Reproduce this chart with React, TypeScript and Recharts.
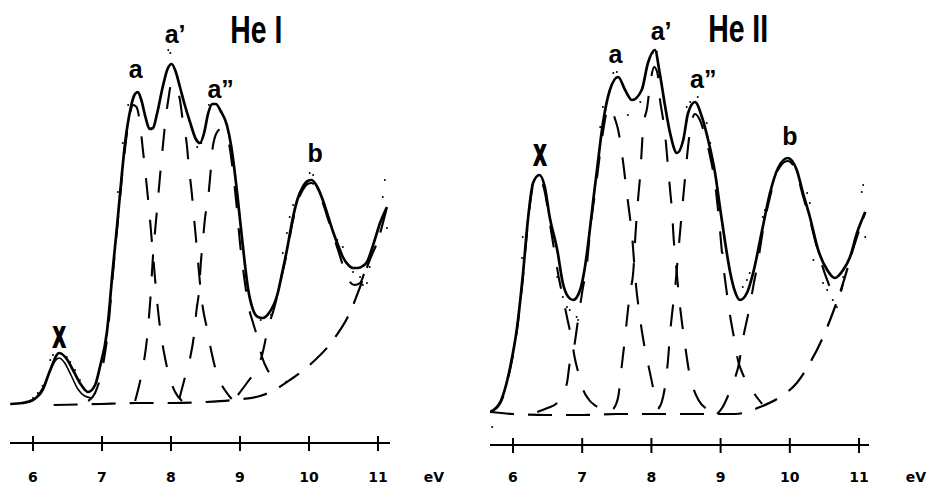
import React from 'react';
import { ComposedChart, Line, Scatter, XAxis, YAxis, ReferenceDot } from 'recharts';

type P = [number, number];
const toData = (pts: P[]) => pts.map(([x, y]) => ({ x, y }));

const xTicks = [6, 7, 8, 9, 10, 11];
const xUnit = 'eV';

// ---------- He I panel ----------
const heIFit: P[] = [
  [5.67, 1], [5.85, 2], [6.0, 5], [6.14, 15], [6.25, 35], [6.38, 52], [6.5, 45], [6.58, 35], [6.7, 20], [6.8, 13],
  [6.9, 20], [6.97, 38], [7.07, 72], [7.16, 138], [7.22, 180], [7.28, 225], [7.34, 265], [7.41, 295], [7.47, 310],
  [7.52, 313], [7.57, 305], [7.63, 288], [7.69, 276], [7.74, 277], [7.8, 292], [7.88, 318], [7.95, 336], [8.01, 341],
  [8.07, 333], [8.13, 318], [8.2, 300], [8.28, 282], [8.36, 266], [8.42, 262], [8.48, 272], [8.54, 292], [8.6, 301],
  [8.65, 301], [8.72, 294], [8.81, 280], [8.87, 260], [8.92, 235], [8.97, 205], [9.04, 160], [9.12, 115], [9.19, 95],
  [9.26, 88], [9.33, 87], [9.42, 92], [9.54, 110], [9.62, 135], [9.68, 155], [9.76, 185], [9.83, 205], [9.91, 218],
  [9.98, 224], [10.04, 225], [10.12, 218], [10.2, 205], [10.28, 188], [10.35, 173], [10.42, 160], [10.49, 148],
  [10.57, 140], [10.64, 137], [10.71, 137], [10.78, 139], [10.84, 143], [10.93, 160], [11.03, 182], [11.13, 198],
];
const heIPeakX: P[] = [
  [5.95, 3], [6.05, 8], [6.15, 18], [6.25, 34], [6.32, 44], [6.38, 47], [6.45, 43], [6.55, 30], [6.65, 16],
  [6.75, 9], [6.85, 7],
];
const heIBackground: P[] = [
  [6.3, 0], [6.97, 1], [7.5, 2], [8.03, 2], [8.5, 3], [8.9, 5], [9.29, 9], [9.5, 15], [9.68, 23], [10.01, 40],
  [10.35, 65], [10.59, 92], [10.74, 118], [10.88, 145], [11.0, 165], [11.13, 198],
];
const heIPeakA: P[] = [
  [6.8, 4], [6.9, 12], [7.0, 35], [7.08, 70], [7.16, 132], [7.24, 192], [7.32, 248], [7.39, 285], [7.45, 300],
  [7.5, 298], [7.55, 282], [7.59, 257], [7.64, 225], [7.69, 190], [7.74, 150], [7.79, 110], [7.84, 78], [7.9, 52],
  [7.97, 30], [8.06, 13], [8.16, 4],
];
const heIPeakA1: P[] = [
  [7.48, 4], [7.54, 20], [7.6, 40], [7.65, 65], [7.7, 105], [7.74, 150], [7.78, 182], [7.81, 205], [7.84, 228],
  [7.87, 250], [7.91, 278], [7.96, 305], [8.01, 322], [8.07, 318], [8.13, 305], [8.17, 285], [8.23, 260], [8.26, 237],
  [8.3, 213], [8.33, 190], [8.36, 168], [8.39, 145], [8.42, 122], [8.46, 98], [8.52, 77], [8.59, 52], [8.68, 28],
  [8.78, 15], [8.88, 6],
];
const heIPeakA2: P[] = [
  [8.12, 6], [8.2, 27], [8.28, 48], [8.33, 68], [8.37, 95], [8.41, 117], [8.43, 140], [8.46, 162], [8.49, 185],
  [8.54, 208], [8.57, 230], [8.6, 255], [8.66, 272], [8.72, 276], [8.79, 272], [8.85, 258], [8.9, 232], [8.95, 200],
  [9.0, 162], [9.06, 128], [9.12, 100], [9.19, 82], [9.25, 68], [9.32, 48], [9.4, 35], [9.48, 28], [9.58, 24], [9.68, 23],
];
const heIPeakB: P[] = [
  [8.97, 10], [9.1, 22], [9.22, 34], [9.32, 50], [9.41, 78], [9.5, 98], [9.6, 128], [9.68, 152], [9.76, 182],
  [9.83, 202], [9.91, 215], [9.98, 221], [10.04, 222], [10.12, 215], [10.2, 202], [10.28, 185], [10.35, 170],
  [10.42, 155], [10.5, 138], [10.58, 124], [10.66, 120], [10.74, 122], [10.8, 132],
];
const heIPoints: P[] = [
  [6.0, 7], [6.07, 12], [6.14, 19], [6.25, 45], [6.29, 50], [6.49, 48], [6.54, 43], [6.61, 35], [6.68, 25],
  [7.23, 213], [7.3, 262], [7.38, 300], [7.96, 355], [7.99, 352], [8.55, 300], [8.38, 258], [8.44, 262], [9.3, 85],
  [9.45, 90], [9.62, 152], [9.68, 172], [9.72, 188], [9.77, 200], [10.01, 232], [10.06, 230], [10.41, 165],
  [10.49, 158], [10.64, 133], [10.74, 128], [10.78, 120], [10.84, 122], [10.88, 138], [11.07, 208], [11.1, 225], [11.13, 177],
];
const heILabels = [
  { text: 'X', x: 6.38, y: 58, kind: 'x' },
  { text: 'a', x: 7.49, y: 327, kind: 'peak' },
  { text: 'a’', x: 8.06, y: 362, kind: 'peak' },
  { text: 'a”', x: 8.72, y: 307, kind: 'peak' },
  { text: 'b', x: 10.09, y: 243, kind: 'peak' },
  { text: 'He I', x: 8.86, y: 362, kind: 'title1' },
];

// ---------- He II panel ----------
const heIIFit: P[] = [
  [5.67, 0], [5.81, 9], [5.96, 45], [6.06, 85], [6.14, 135], [6.22, 195], [6.29, 229], [6.38, 237], [6.46, 225],
  [6.53, 195], [6.64, 162], [6.72, 129], [6.8, 115], [6.87, 112], [6.97, 122], [7.04, 145], [7.11, 182], [7.16, 212],
  [7.21, 240], [7.3, 289], [7.4, 322], [7.52, 335], [7.62, 322], [7.72, 312], [7.86, 322], [7.95, 349], [8.05, 362],
  [8.12, 339], [8.2, 305], [8.27, 279], [8.37, 259], [8.46, 272], [8.53, 299], [8.63, 310], [8.73, 295], [8.82, 272],
  [8.92, 239], [8.99, 205], [9.06, 172], [9.14, 139], [9.21, 120], [9.28, 112], [9.38, 119], [9.47, 139], [9.6, 182],
  [9.71, 218], [9.83, 244], [9.97, 254], [10.1, 242], [10.19, 219], [10.29, 195], [10.41, 162], [10.54, 142],
  [10.65, 134], [10.77, 142], [10.87, 155], [10.97, 179], [11.09, 200],
];
const heIIBackground: P[] = [
  [5.67, 0], [6.0, -2], [6.5, -3], [7.0, -3], [7.5, -2], [8.0, -2], [8.5, -2], [9.0, -2], [9.21, -2], [9.57, 5],
  [9.86, 15], [10.1, 29], [10.29, 49], [10.48, 75], [10.62, 99], [10.77, 129], [10.91, 162], [11.09, 200],
];
const heIIPeakX: P[] = [
  [5.67, 0], [5.81, 8], [5.96, 43], [6.06, 83], [6.14, 132], [6.22, 192], [6.29, 226], [6.38, 234], [6.46, 220],
  [6.53, 190], [6.6, 160], [6.66, 135], [6.72, 115], [6.78, 95], [6.85, 72], [6.89, 55], [6.95, 38], [7.0, 25],
  [7.1, 12], [7.2, 6], [7.33, 2],
];
const heIIPeakA: P[] = [
  [6.35, 0], [6.5, 4], [6.64, 9], [6.78, 29], [6.82, 49], [6.87, 60], [6.94, 92], [7.0, 120], [7.07, 149],
  [7.11, 178], [7.21, 232], [7.3, 280], [7.38, 305], [7.43, 303], [7.47, 294], [7.52, 282], [7.56, 266], [7.6, 245],
  [7.64, 222], [7.68, 200], [7.72, 177], [7.75, 150], [7.78, 125], [7.82, 102], [7.86, 82], [7.91, 62], [7.98, 39],
  [8.05, 17], [8.12, 5],
];
const heIIPeakA1: P[] = [
  [7.45, 3], [7.52, 15], [7.57, 45], [7.62, 75], [7.65, 95], [7.69, 119], [7.74, 142], [7.77, 178], [7.81, 215],
  [7.84, 239], [7.86, 262], [7.88, 284], [7.94, 305], [7.98, 327], [8.04, 345], [8.09, 338], [8.12, 315], [8.17, 292],
  [8.21, 269], [8.24, 245], [8.27, 222], [8.3, 199], [8.32, 175], [8.35, 152], [8.38, 129], [8.41, 108], [8.45, 85],
  [8.49, 65], [8.54, 42], [8.6, 25], [8.68, 12], [8.8, 3],
];
const heIIPeakA2: P[] = [
  [8.1, 3], [8.15, 10], [8.21, 32], [8.24, 52], [8.27, 79], [8.3, 99], [8.34, 122], [8.37, 145], [8.4, 169],
  [8.43, 192], [8.46, 215], [8.49, 237], [8.52, 259], [8.56, 282], [8.63, 298], [8.7, 292], [8.78, 275], [8.85, 255],
  [8.92, 228], [8.98, 190], [9.03, 152], [9.09, 119], [9.14, 95], [9.2, 72], [9.25, 52], [9.32, 38], [9.4, 27],
  [9.5, 17], [9.6, 8],
];
const heIIPeakB: P[] = [
  [8.95, -2], [9.03, 5], [9.1, 15], [9.18, 29], [9.27, 50], [9.32, 72], [9.38, 92], [9.42, 105], [9.47, 125],
  [9.54, 150], [9.6, 177], [9.71, 214], [9.83, 242], [9.97, 251], [10.1, 239], [10.19, 216], [10.29, 192],
  [10.41, 160], [10.54, 132], [10.65, 116], [10.72, 118], [10.77, 129],
];
const heIIPoints: P[] = [
  [5.7, -15], [6.13, 154], [6.14, 175], [6.46, 219], [6.64, 135], [6.72, 115], [6.78, 105], [6.82, 102], [6.92, 95],
  [6.94, 92], [7.26, 285], [7.3, 305], [7.45, 339], [7.5, 340], [7.66, 297], [7.84, 310], [8.02, 359], [8.08, 360],
  [8.51, 305], [8.56, 310], [8.67, 315], [8.8, 289], [8.85, 269], [8.99, 205], [9.03, 159], [9.32, 125], [9.38, 132],
  [9.42, 139], [9.61, 195], [9.64, 202], [9.71, 219], [10.25, 219], [10.29, 209], [10.34, 152], [10.48, 129],
  [10.54, 122], [10.62, 112], [10.68, 105], [10.77, 135], [11.04, 220], [11.06, 227], [11.09, 175],
];
const heIILabels = [
  { text: 'X', x: 6.39, y: 247, kind: 'x' },
  { text: 'a', x: 7.48, y: 349, kind: 'peak' },
  { text: 'a’', x: 8.14, y: 372, kind: 'peak' },
  { text: 'a”', x: 8.75, y: 324, kind: 'peak' },
  { text: 'b', x: 10.0, y: 267, kind: 'peak' },
  { text: 'He II', x: 8.82, y: 370, kind: 'title2' },
];

// ---------- styles ----------
const FONT = '"Liberation Sans", Arial, sans-serif';
const TICK_FONT = '"DejaVu Sans", sans-serif';
const labelStyle: Record<string, any> = {
  peak: { fontSize: 25, anchor: 'middle' },
  x: { fontSize: 30, anchor: 'middle', length: 12, stroke: 2.2 },
  title1: { fontSize: 38, anchor: 'start', length: 52 },
  title2: { fontSize: 38, anchor: 'start', length: 60 },
};

const makeTick = (unitDx: number, labelDy: number) => (props: any) => {
  const { x, y, payload } = props;
  return (
    <g>
      <line x1={x} x2={x} y1={y - 7} y2={y + 8} stroke="#000" strokeWidth={2} />
      <text x={x} y={y + labelDy} textAnchor="middle" fontFamily={TICK_FONT} fontWeight="bold" fontSize={14} fill="#000">
        {payload.value}
      </text>
      {payload.value === 11 ? (
        <text x={x + unitDx} y={y + labelDy} textAnchor="middle" fontFamily={TICK_FONT} fontWeight="bold" fontSize={14} fill="#000">
          {xUnit}
        </text>
      ) : null}
    </g>
  );
};

const dotShape = (p: any) => <circle cx={p.cx} cy={p.cy} r={1} fill="#000" />;

function Panel(props: any) {
  const { width, height, margin, domainX, domainY, fit, comps, inner, bg, dots, labels, unitDx, labelDy } = props;
  return (
    <ComposedChart width={width} height={height} margin={margin}>
      <XAxis
        dataKey="x"
        type="number"
        domain={domainX}
        allowDataOverflow
        ticks={xTicks}
        interval={0}
        height={30}
        tickLine={false}
        tickSize={0}
        tickMargin={0}
        axisLine={{ stroke: '#000', strokeWidth: 2 }}
        tick={makeTick(unitDx, labelDy)}
      />
      <YAxis dataKey="y" type="number" domain={domainY} allowDataOverflow hide />
      <Line data={toData(bg)} dataKey="y" type="monotone" stroke="#000" strokeWidth={2.2} strokeDasharray="24 14" dot={false} activeDot={false} isAnimationActive={false} />
      {comps.map((c: P[], i: number) => (
        <Line key={i} data={toData(c)} dataKey="y" type="monotone" stroke="#000" strokeWidth={2.1} strokeDasharray="22 20" dot={false} activeDot={false} isAnimationActive={false} />
      ))}
      {inner ? (
        <Line data={toData(inner)} dataKey="y" type="monotone" stroke="#000" strokeWidth={1.6} dot={false} activeDot={false} isAnimationActive={false} />
      ) : null}
      <Line data={toData(fit)} dataKey="y" type="monotone" stroke="#000" strokeWidth={2.7} dot={false} activeDot={false} isAnimationActive={false} />
      <Scatter data={toData(dots)} dataKey="y" fill="#000" shape={dotShape} isAnimationActive={false} />
      {labels.map((l: any) => {
        const s = labelStyle[l.kind];
        return (
          <ReferenceDot
            key={l.text}
            x={l.x}
            y={l.y}
            ifOverflow="visible"
            shape={(p: any) => (
              <text
                x={p.cx}
                y={p.cy}
                textAnchor={s.anchor}
                fontFamily={FONT}
                fontWeight="bold"
                fontSize={s.fontSize}
                fill="#000"
                stroke={s.stroke ? '#000' : undefined}
                strokeWidth={s.stroke}
                {...(s.length ? { textLength: s.length, lengthAdjust: 'spacingAndGlyphs' } : {})}
              >
                {l.text}
              </text>
            )}
          />
        );
      })}
    </ComposedChart>
  );
}

export default function App() {
  return (
    <div style={{ position: 'absolute', left: 0, top: 0, width: 929, height: 488, background: '#fff' }}>
      <div style={{ position: 'absolute', left: 0, top: 0 }}>
        <Panel
          width={460}
          height={488}
          margin={{ top: 5, right: 70, bottom: 15, left: 10 }}
          domainX={[5.667, 11.174]}
          domainY={[-38, 400]}
          fit={heIFit}
          comps={[heIPeakA, heIPeakA1, heIPeakA2, heIPeakB]}
          inner={heIPeakX}
          bg={heIBackground}
          dots={heIPoints}
          labels={heILabels}
          unitDx={56}
          labelDy={39}
        />
      </div>
      <div style={{ position: 'absolute', left: 460, top: 0 }}>
        <Panel
          width={469}
          height={488}
          margin={{ top: 5, right: 60, bottom: 13, left: 30 }}
          domainX={[5.668, 11.144]}
          domainY={[-33, 407]}
          fit={heIIFit}
          comps={[heIIPeakX, heIIPeakA, heIIPeakA1, heIIPeakA2, heIIPeakB]}
          bg={heIIBackground}
          dots={heIIPoints}
          labels={heIILabels}
          unitDx={57}
          labelDy={37}
        />
      </div>
    </div>
  );
}
